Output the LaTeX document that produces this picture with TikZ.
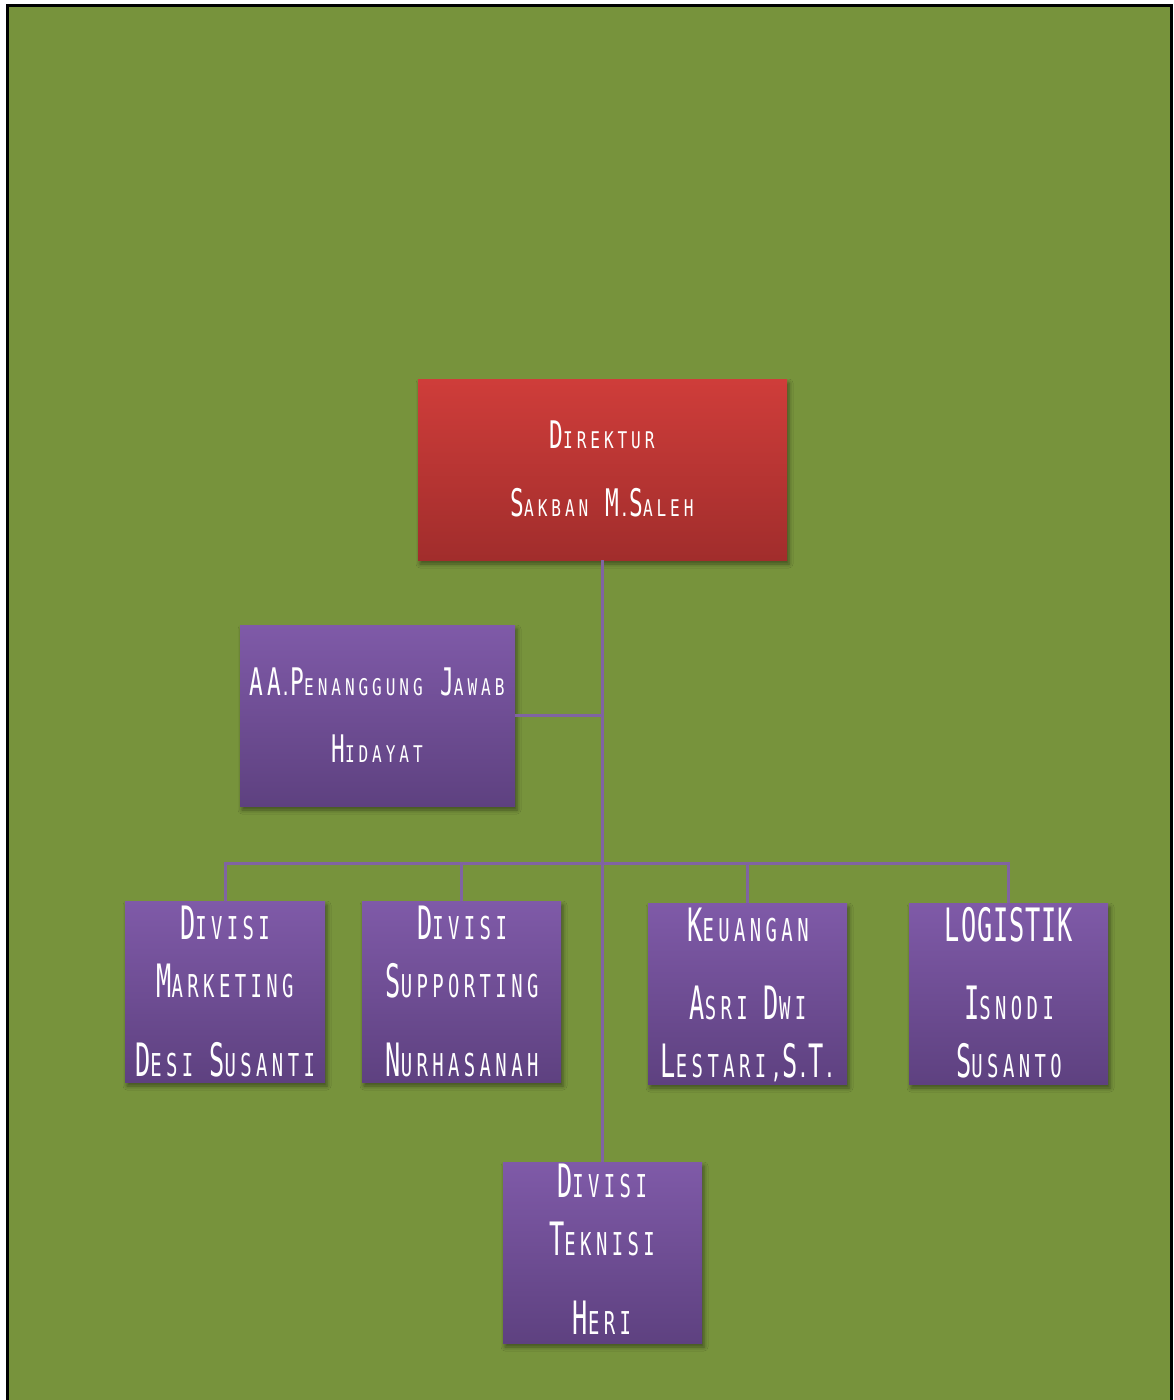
\documentclass[tikz,border=0pt]{standalone}
\usepackage{fontspec}
\usetikzlibrary{shadows,shadows.blur}
\newfontfamily\agt[FakeStretch=0.6, LetterSpace=10]{DejaVu Sans Mono}
\newfontfamily\agtS[FakeStretch=0.7, LetterSpace=17]{DejaVu Sans Mono}
\newfontfamily\agl[FakeStretch=0.55, LetterSpace=2]{DejaVu Sans Mono}
\newfontfamily\aglS[FakeStretch=0.6, LetterSpace=14]{DejaVu Sans Mono}
\newcommand\smT[1]{{\agtS\fontsize{23}{25}\selectfont #1}}
\newcommand\smL[1]{{\aglS\fontsize{31.5}{33}\selectfont #1}}
\definecolor{bggreen}{HTML}{77933C}
\definecolor{redtop}{HTML}{CF3D3A}
\definecolor{redbot}{HTML}{A12D2C}
\definecolor{purtop}{HTML}{7F5AA8}
\definecolor{purbot}{HTML}{5E4180}
\definecolor{linepur}{HTML}{8064A2}
\tikzset{
  box/.style={rectangle, inner sep=0pt, minimum height=181pt,
    blur shadow={shadow xshift=2pt, shadow yshift=-4pt, shadow blur radius=4pt, shadow opacity=45}},
  redbox/.style={box, top color=redtop, bottom color=redbot},
  purbox/.style={box, top color=purtop, bottom color=purbot},
  ttxt/.style={anchor=base, text=white, inner sep=0pt, font=\agt\fontsize{38}{40}\selectfont},
  ltxt/.style={anchor=base, text=white, inner sep=0pt, font=\agl\fontsize{46}{48}\selectfont},
  conn/.style={draw=linepur, line width=3pt}
}
\begin{document}
\begin{tikzpicture}[x=1pt, y=-1pt]
\useasboundingbox (0,0) rectangle (1173,1400);
\fill[white] (0,0) rectangle (1173,1400);
\fill[bggreen] (7,5.5) rectangle (1171,1410);
\draw[black, line width=3pt] (7,1410) -- (7,5.5) -- (1171,5.5) -- (1171,1410);

% boxes
\node[redbox, minimum width=369pt] (dir) at (602.5,469.5) {};
\node[purbox, minimum width=275pt] (aa) at (377.5,715.5) {};
\node[purbox, minimum width=200pt] (mkt) at (225,991.5) {};
\node[purbox, minimum width=199pt] (sup) at (461.5,991.5) {};
\node[purbox, minimum width=199pt] (keu) at (747.5,993.5) {};
\node[purbox, minimum width=199pt] (log) at (1008.5,993.5) {};
\node[purbox, minimum width=199pt] (tek) at (602.5,1252.5) {};

% connectors
\coordinate (hub) at (602,863);
\draw[conn] (dir.south) -- (tek.north);
\draw[conn] (aa.east) -- (aa.east -| dir.south);
\draw[conn] (mkt.north) |- (hub) -| (log.north);
\draw[conn] (sup.north) -- (sup.north |- hub);
\draw[conn] (keu.north) -- (keu.north |- hub);

% texts
\node[ttxt] (t1) at (602,448) {D\smT{IREKTUR}};
\node[ttxt] (t2) at (602,516) {S\smT{AKBAN} M\smT{.}S\smT{ALEH}};
\node[ttxt] (t3) at (377,695) {AA\smT{.}P\smT{ENANGGUNG} J\smT{AWAB}};
\node[ttxt] (t4) at (377,762) {H\smT{IDAYAT}};

\node[ltxt] (m1) at (225,939) {D\smL{IVISI}};
\node[ltxt] (m2) at (225,997) {M\smL{ARKETING}};
\node[ltxt] (m3) at (225,1076) {D\smL{ESI} S\smL{USANTI}};

\node[ltxt] (s1) at (462,939) {D\smL{IVISI}};
\node[ltxt] (s2) at (462,997) {S\smL{UPPORTING}};
\node[ltxt] (s3) at (462,1076) {N\smL{URHASANAH}};

\node[ltxt] (k1) at (748,941) {K\smL{EUANGAN}};
\node[ltxt] (k2) at (748,1019) {A\smL{SRI} D\smL{WI}};
\node[ltxt] (k3) at (748,1077) {L\smL{ESTARI,}S\smL{.}T\smL{.}};

\node[ltxt] (l1) at (1009,941) {LOGISTIK};
\node[ltxt] (l2) at (1009,1019) {I\smL{SNODI}};
\node[ltxt] (l3) at (1009,1077) {S\smL{USANTO}};

\node[ltxt] (e1) at (602,1197) {D\smL{IVISI}};
\node[ltxt] (e2) at (602,1255) {T\smL{EKNISI}};
\node[ltxt] (e3) at (602,1334) {H\smL{ERI}};
\end{tikzpicture}
\end{document}
